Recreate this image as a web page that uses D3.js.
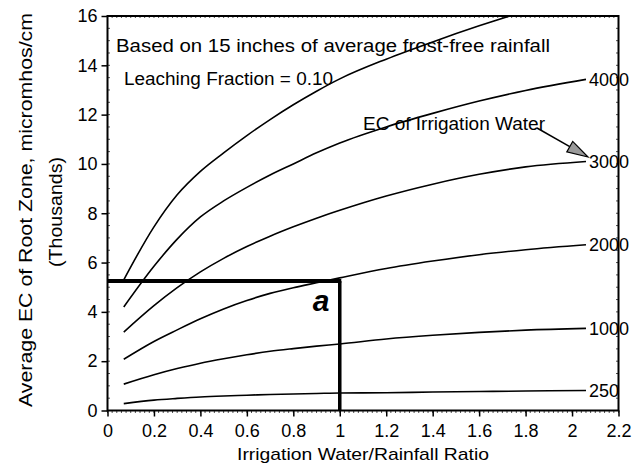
<!DOCTYPE html>
<html>
<head>
<meta charset="utf-8">
<script src="https://cdn.jsdelivr.net/npm/d3@7"></script>
<style>
  body { margin: 0; background: #fff; }
  svg { display: block; font-family: "Liberation Sans", Arial, Helvetica, sans-serif; }
</style>
</head>
<body>
<div id="chart"></div>
<script>
// irrigation water / rainfall ratio, shared by every curve
var ratio = [0.07, 0.2, 0.3, 0.4, 0.5, 0.6, 0.7, 0.8, 0.9, 1.0, 1.2, 1.4, 1.6, 1.8, 2.06];

// average root zone EC (thousands) for each irrigation water EC
var ec250  = [0.28, 0.42, 0.49, 0.55, 0.59, 0.62, 0.65, 0.67, 0.69, 0.71, 0.72, 0.75, 0.77, 0.79, 0.81];
var ec1000 = [1.07, 1.45, 1.70, 1.92, 2.10, 2.26, 2.40, 2.51, 2.61, 2.70, 2.90, 3.05, 3.17, 3.26, 3.33];
var ec2000 = [2.08, 2.80, 3.27, 3.72, 4.12, 4.46, 4.75, 4.98, 5.18, 5.38, 5.76, 6.06, 6.32, 6.52, 6.72];
var ec3000 = [3.18, 4.25, 4.98, 5.62, 6.17, 6.65, 7.07, 7.45, 7.80, 8.12, 8.70, 9.18, 9.58, 9.88, 10.1];
var ec4000 = [4.20, 5.85, 6.95, 7.85, 8.50, 9.05, 9.55, 10.0, 10.45, 10.85, 11.5, 12.05, 12.55, 12.98, 13.43];
var ec5000 = [5.30, 7.45, 8.75, 9.70, 10.45, 11.15, 11.8, 12.4, 12.95, 13.45, 14.25, 14.95, 15.6, 16.2, 16.9];

var curveValues = [ec250, ec1000, ec2000, ec3000, ec4000, ec5000];
var curveLabels = ["250", "1000", "2000", "3000", "4000", ""];

var xTicks = [0, 0.2, 0.4, 0.6, 0.8, 1, 1.2, 1.4, 1.6, 1.8, 2, 2.2];
var yTicks = [0, 2, 4, 6, 8, 10, 12, 14, 16];

// reading marked "a": ratio 1.0 gives about 5.25 thousand
var readRatio = 1.0, readEC = 5.25;

var W = 639, H = 466;
var svg = d3.select("#chart").append("svg")
    .attr("width", W)
    .attr("height", H);

var x = d3.scaleLinear().domain([0, 2.2]).range([107.5, 618.5]);
var y = d3.scaleLinear().domain([0, 16]).range([410.5, 16]);

svg.append("clipPath").attr("id", "plot")
  .append("rect")
    .attr("x", x(0)).attr("y", y(16))
    .attr("width", x(2.2) - x(0)).attr("height", y(0) - y(16));

// minor ticks along the edges
var minorX = d3.range(0, 111).map(function (i) { return i * 0.02; });
var minorY = d3.range(0, 33).map(function (i) { return i * 0.5; });
var minor = svg.append("g").attr("stroke", "#000").attr("stroke-width", 0.7);
minor.selectAll(".mxb").data(minorX).enter().append("line")
    .attr("x1", function (d) { return x(d); }).attr("x2", function (d) { return x(d); })
    .attr("y1", y(0)).attr("y2", y(0) + 2.5);
minor.selectAll(".mxt").data(minorX).enter().append("line")
    .attr("x1", function (d) { return x(d); }).attr("x2", function (d) { return x(d); })
    .attr("y1", y(16)).attr("y2", y(16) + 2);
minor.selectAll(".myl").data(minorY).enter().append("line")
    .attr("x1", x(0)).attr("x2", x(0) + 2.5)
    .attr("y1", function (d) { return y(d); }).attr("y2", function (d) { return y(d); });
minor.selectAll(".myr").data(minorY).enter().append("line")
    .attr("x1", x(2.2) - 2.5).attr("x2", x(2.2))
    .attr("y1", function (d) { return y(d); }).attr("y2", function (d) { return y(d); });

// axes
var yAxis = svg.append("g")
    .attr("transform", "translate(" + x(0) + ",0)")
    .call(d3.axisLeft(y).tickValues(yTicks).tickSize(6).tickPadding(4));
var xAxis = svg.append("g")
    .attr("transform", "translate(0," + y(0) + ")")
    .call(d3.axisBottom(x).tickValues(xTicks).tickSize(6).tickPadding(8)
      .tickFormat(function (d) { return String(d); }));
[xAxis, yAxis].forEach(function (g) {
    g.select(".domain").remove();
    g.selectAll(".tick line").attr("stroke", "#000").attr("stroke-width", 1.5);
    g.selectAll(".tick text")
        .attr("fill", "#000")
        .style("font-size", "18px")
        .style("font-family", "Liberation Sans, Arial, sans-serif");
});

// frame
svg.append("rect")
    .attr("x", x(0)).attr("y", y(16))
    .attr("width", x(2.2) - x(0)).attr("height", y(0) - y(16))
    .attr("fill", "none").attr("stroke", "#000").attr("stroke-width", 2);

// curves
var line = d3.line()
    .x(function (d) { return x(d[0]); })
    .y(function (d) { return y(d[1]); })
    .curve(d3.curveMonotoneX);

var curves = curveValues.map(function (vals) {
    return ratio.map(function (r, i) { return [r, vals[i]]; });
});

svg.append("g").attr("clip-path", "url(#plot)")
  .selectAll("path").data(curves).enter().append("path")
    .attr("d", line)
    .attr("fill", "none")
    .attr("stroke", "#000")
    .attr("stroke-width", 1.6);

// thick reading lines
svg.append("line")
    .attr("x1", x(0)).attr("x2", x(readRatio) + 1.5)
    .attr("y1", y(readEC)).attr("y2", y(readEC))
    .attr("stroke", "#000").attr("stroke-width", 4);
svg.append("line")
    .attr("x1", x(readRatio)).attr("x2", x(readRatio))
    .attr("y1", y(readEC)).attr("y2", y(0))
    .attr("stroke", "#000").attr("stroke-width", 3.5);

svg.append("text")
    .attr("x", x(readRatio) - 27).attr("y", y(readEC) + 30)
    .style("font-size", "30px").style("font-weight", "bold").style("font-style", "italic")
    .text("a");

// curve end labels
var lastIdx = ratio.length - 1;
svg.append("g").selectAll("text")
    .data(curveValues.filter(function (v, i) { return curveLabels[i] !== ""; }))
    .enter().append("text")
    .attr("x", x(ratio[lastIdx]) + 3)
    .attr("y", function (v) { return y(v[lastIdx]); })
    .attr("dy", "0.36em")
    .style("font-size", "18px")
    .text(function (v) { return curveLabels[curveValues.indexOf(v)]; });

// notes
svg.append("text")
    .attr("x", 116).attr("y", 52)
    .attr("textLength", 434).attr("lengthAdjust", "spacingAndGlyphs")
    .style("font-size", "17.5px")
    .text("Based on 15 inches of average frost-free rainfall");
svg.append("text")
    .attr("x", 124).attr("y", 85)
    .attr("textLength", 209).attr("lengthAdjust", "spacingAndGlyphs")
    .style("font-size", "17.5px")
    .text("Leaching Fraction = 0.10");
svg.append("text")
    .attr("x", 363).attr("y", 130)
    .attr("textLength", 182).attr("lengthAdjust", "spacingAndGlyphs")
    .style("font-size", "17.5px")
    .text("EC of Irrigation Water");

// arrow to the 3000 curve
var a0 = [537, 128], a1 = [588, 157];
var dx = a1[0] - a0[0], dy = a1[1] - a0[1], len = Math.sqrt(dx * dx + dy * dy);
var ux = dx / len, uy = dy / len, hl = 21, hw = 6;
svg.append("line")
    .attr("x1", a0[0]).attr("y1", a0[1]).attr("x2", a1[0] - ux * hl).attr("y2", a1[1] - uy * hl)
    .attr("stroke", "#000").attr("stroke-width", 1.5);
svg.append("path")
    .attr("d", "M" + a1[0] + "," + a1[1] +
        "L" + (a1[0] - ux * hl - uy * hw) + "," + (a1[1] - uy * hl + ux * hw) +
        "L" + (a1[0] - ux * hl + uy * hw) + "," + (a1[1] - uy * hl - ux * hw) + "Z")
    .attr("fill", "#9a9a9a").attr("stroke", "#000").attr("stroke-width", 1.2);

// axis titles
svg.append("text")
    .attr("x", (x(0) + x(2.2)) / 2 - 0).attr("y", 460)
    .attr("text-anchor", "middle")
    .attr("textLength", 252).attr("lengthAdjust", "spacingAndGlyphs")
    .style("font-size", "17px")
    .text("Irrigation Water/Rainfall Ratio");
svg.append("text")
    .attr("transform", "translate(32,210) rotate(-90)")
    .attr("text-anchor", "middle")
    .attr("textLength", 394).attr("lengthAdjust", "spacingAndGlyphs")
    .style("font-size", "19px")
    .text("Average EC of Root Zone, micromhos/cm");
svg.append("text")
    .attr("transform", "translate(62,212) rotate(-90)")
    .attr("text-anchor", "middle")
    .attr("textLength", 110).attr("lengthAdjust", "spacingAndGlyphs")
    .style("font-size", "19px")
    .text("(Thousands)");
</script>
</body>
</html>
